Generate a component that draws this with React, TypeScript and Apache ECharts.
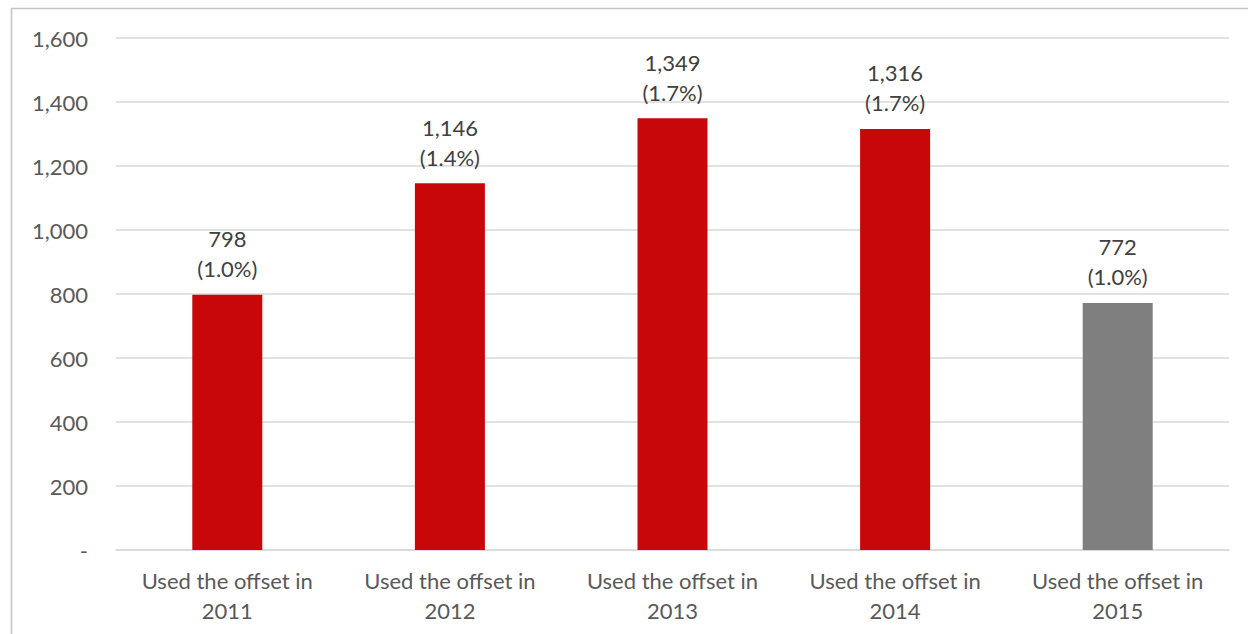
import React, { useEffect, useRef } from "react";
import * as echarts from "echarts";

const categories = [
  "Used the offset in\n2011",
  "Used the offset in\n2012",
  "Used the offset in\n2013",
  "Used the offset in\n2014",
  "Used the offset in\n2015",
];
const values = [798, 1146, 1349, 1316, 772];
const shares = ["1.0%", "1.4%", "1.7%", "1.7%", "1.0%"];
const barColors = ["#C80808", "#C80808", "#C80808", "#C80808", "#7F7F7F"];

const FONT = "Lato, 'Open Sans', sans-serif";

export default function App() {
  const ref = useRef<HTMLDivElement>(null);

  useEffect(() => {
    if (!ref.current) return;
    const chart = echarts.init(ref.current, null, { renderer: "svg" });
    chart.setOption({
      animation: false,
      backgroundColor: "#ffffff",
      textStyle: { fontFamily: FONT },
      graphic: [
        {
          type: "rect",
          silent: true,
          shape: { x: 11.5, y: 8.5, width: 1300, height: 700 },
          style: { fill: "none", stroke: "#C4C4C4", lineWidth: 1.5 },
        },
      ],
      grid: { left: 116, right: 19, top: 38, bottom: 84, containLabel: false },
      xAxis: {
        type: "category",
        data: categories,
        axisLine: { show: true, lineStyle: { color: "#D9D9D9", width: 1.5 } },
        axisTick: { show: false },
        axisLabel: {
          color: "#595959",
          fontSize: 22,
          fontFamily: FONT,
          lineHeight: 30,
          margin: 15,
        },
      },
      yAxis: {
        type: "value",
        min: 0,
        max: 1600,
        interval: 200,
        axisLine: { show: false },
        axisTick: { show: false },
        splitLine: { lineStyle: { color: "#D9D9D9", width: 1.5 } },
        axisLabel: {
          color: "#595959",
          fontSize: 22,
          fontFamily: FONT,
          margin: 28,
          formatter: (v: number) => (v === 0 ? "-" : v.toLocaleString("en-US")),
        },
      },
      series: [
        {
          type: "bar",
          barWidth: 70,
          data: values.map((v, i) => ({
            value: v,
            itemStyle: { color: barColors[i] },
          })),
          label: {
            show: true,
            position: "top",
            distance: 11,
            color: "#404040",
            fontSize: 22,
            fontFamily: FONT,
            lineHeight: 30,
            align: "center",
            formatter: (p: any) =>
              `${Number(p.value).toLocaleString("en-US")}\n(${shares[p.dataIndex]})`,
          },
        },
      ],
    });
    return () => chart.dispose();
  }, []);

  return (
    <div
      ref={ref}
      style={{ position: "fixed", left: 0, top: 0, width: 1248, height: 634 }}
    />
  );
}
